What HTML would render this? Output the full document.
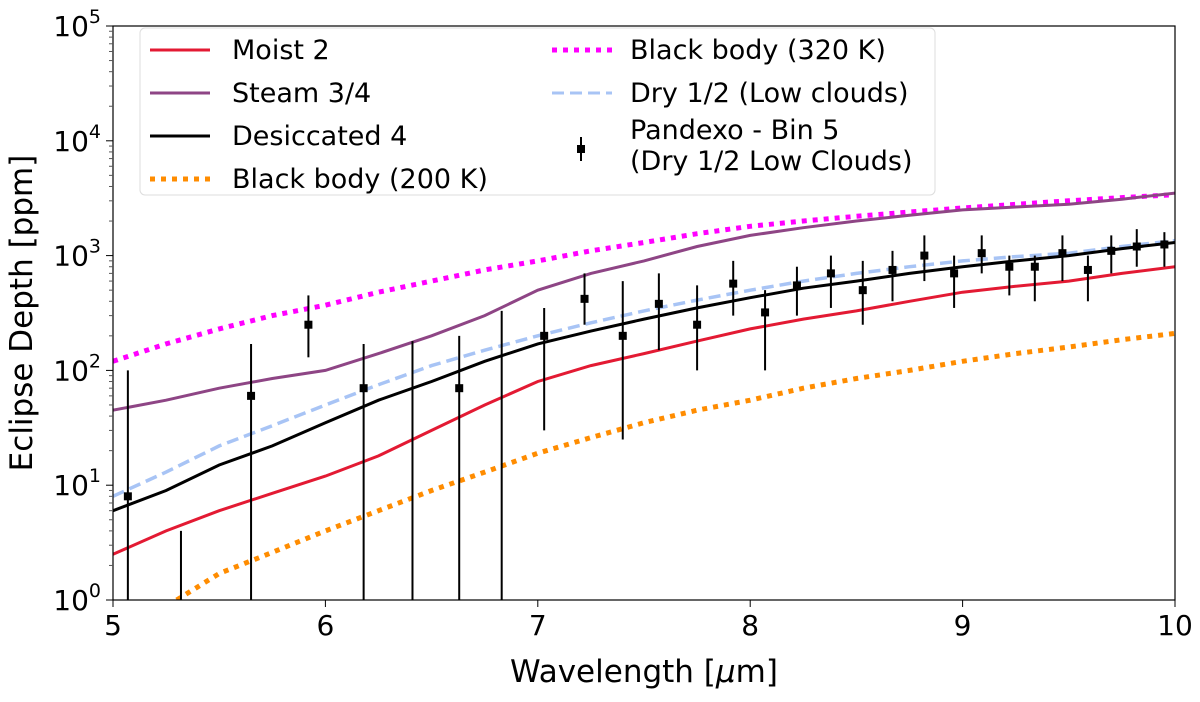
<!DOCTYPE html>
<html><head><meta charset="utf-8"><style>
body{margin:0;background:#fff;}
svg text{font-family:"DejaVu Sans","Liberation Sans",sans-serif;fill:#000;}
</style></head><body>
<svg id="chart" width="1200" height="697" xmlns="http://www.w3.org/2000/svg">
<g id="series"></g>
<g id="axes"></g>
<g id="legend">
<rect x="140" y="28" width="795" height="167" rx="5" fill="#fff" fill-opacity="0.85" stroke="#ddd"/>
<line x1="150" y1="50" x2="210" y2="50" stroke="#e31a33" stroke-width="3"/>
<text x="232" y="59" font-size="27">Moist 2</text>
<line x1="150" y1="93" x2="210" y2="93" stroke="#8e4585" stroke-width="3"/>
<text x="232" y="102" font-size="27">Steam 3/4</text>
<line x1="150" y1="136" x2="210" y2="136" stroke="#000" stroke-width="3"/>
<text x="232" y="145" font-size="27">Desiccated 4</text>
<line x1="150" y1="179" x2="210" y2="179" stroke="#ff8c00" stroke-width="5" stroke-dasharray="5,6"/>
<text x="232" y="188" font-size="27">Black body (200 K)</text>
<line x1="552" y1="50" x2="612" y2="50" stroke="#ff00ff" stroke-width="5" stroke-dasharray="5,6"/>
<text x="630" y="59" font-size="27">Black body (320 K)</text>
<line x1="552" y1="93" x2="612" y2="93" stroke="#a8c4f5" stroke-width="3" stroke-dasharray="12,6"/>
<text x="630" y="102" font-size="27">Dry 1/2 (Low clouds)</text>
<line x1="581" y1="137" x2="581" y2="161" stroke="#000" stroke-width="2"/>
<rect x="577" y="145" width="8" height="8" fill="#000"/>
<text x="630" y="139" font-size="27">Pandexo - Bin 5</text>
<text x="630" y="170" font-size="27">(Dry 1/2 Low Clouds)</text>
</g>
</svg>
<script>
const wl = [5,5.25,5.5,5.75,6,6.25,6.5,6.75,7,7.25,7.5,7.75,8,8.25,8.5,8.75,9,9.25,9.5,9.75,10];
const moist = [2.5,4,6,8.5,12,18,30,50,80,110,140,180,230,280,330,400,480,540,600,700,800];
const steam = [45,55,70,85,100,140,200,300,500,700,900,1200,1500,1750,2000,2250,2500,2650,2800,3100,3500];
const desic = [6,9,15,22,35,55,80,120,170,220,280,350,430,520,600,700,800,900,1000,1150,1300];
const dry = [8,13,22,33,50,75,110,150,200,260,330,410,500,600,700,800,900,980,1050,1200,1350];
const bb320 = [120,170,230,300,370,480,600,750,900,1100,1300,1550,1800,2000,2200,2400,2600,2800,3000,3200,3400];
const bb200wl = [5.3,5.5,5.75,6,6.25,6.5,6.75,7,7.25,7.5,7.75,8,8.25,8.5,8.75,9,9.25,9.5,9.75,10];
const bb200 = [1,1.7,2.6,4,6,9,13,19,26,35,45,55,70,85,100,120,140,160,185,210];
const pWl = [5.07,5.32,5.65,5.92,6.18,6.41,6.63,6.83,7.03,7.22,7.40,7.57,7.75,7.92,8.07,8.22,8.38,8.53,8.67,8.82,8.96,9.09,9.22,9.34,9.47,9.59,9.70,9.82,9.95];
const pVal = [8,0.5,60,250,70,0.5,70,0.5,200,420,200,380,250,570,320,550,700,500,750,1000,700,1050,800,800,1050,750,1100,1200,1250];
const pLo = [0.1,0.1,0.1,130,0.1,0.1,0.1,0.1,30,250,25,150,100,300,100,300,350,250,400,600,350,700,450,400,600,400,700,800,800];
const pHi = [100,4,170,450,170,180,200,330,350,700,600,700,550,900,500,800,1000,900,1100,1500,1000,1500,1000,1000,1500,1000,1500,1700,1600];
const xTicks = [5,6,7,8,9,10];
const yTicks = [0,1,2,3,4,5];

const L=113,R=1175,T=26,B=600;
const X=v=>L+(v-5)/5*(R-L);
const Y=v=>B-Math.log10(Math.max(v,0.5))/5*(B-T);
const ns="http://www.w3.org/2000/svg";
const S=document.getElementById('series'), A=document.getElementById('axes');
function mk(tag,at,par){const e=document.createElementNS(ns,tag);for(const k in at)e.setAttribute(k,at[k]);par.appendChild(e);return e;}
const clip=mk('clipPath',{id:'pc'},S);mk('rect',{x:L,y:T,width:R-L,height:B-T},clip);
function line(xs,ys,stroke,w,dash,name){
  const d=xs.map((x,i)=>(i?'L':'M')+X(x).toFixed(1)+','+Y(ys[i]).toFixed(1)).join('');
  const p=mk('path',{d:d,fill:'none',stroke:stroke,'stroke-width':w,'clip-path':'url(#pc)'},S);
  if(dash)p.setAttribute('stroke-dasharray',dash);
  
  
}
line(wl,bb320,'#ff00ff',5,'5,6','series-bb320');
line(wl,steam,'#8e4585',3,null,'series-steam');
line(wl,dry,'#a8c4f5',3.5,'12,6','series-dry');
line(wl,desic,'#000',3,null,'series-desiccated');
line(wl,moist,'#e31a33',3,null,'series-moist');
line(bb200wl,bb200,'#ff8c00',5,'5,6','series-bb200');
pWl.forEach((w,i)=>{
  const g=mk('g',{'clip-path':'url(#pc)'},S);
  
  
  mk('line',{x1:X(w),x2:X(w),y1:Y(pLo[i]),y2:Y(pHi[i]),stroke:'#000','stroke-width':2},g);
  mk('rect',{x:X(w)-4,y:Y(pVal[i])-4,width:8,height:8,fill:'#000'},g);
});
mk('rect',{x:L,y:T,width:R-L,height:B-T,fill:'none',stroke:'#000','stroke-width':1.2},A);
xTicks.forEach(v=>{
  mk('line',{x1:X(v),x2:X(v),y1:B,y2:B+7,stroke:'#000'},A);
  const t=mk('text',{x:X(v),y:B+35,'font-size':28,'text-anchor':'middle'},A);t.textContent=v;
  
  
});
yTicks.forEach(v=>{
  const y=B-v/5*(B-T);
  mk('line',{x1:L-7,x2:L,y1:y,y2:y,stroke:'#000'},A);
  if(v<5)for(let m=2;m<10;m++){const yy=y-Math.log10(m)/5*(B-T);mk('line',{x1:L-4,x2:L,y1:yy,y2:yy,stroke:'#555'},A);}
  const t=mk('text',{x:L-12,y:y+10,'font-size':28,'text-anchor':'end'},A);
  
  
  t.innerHTML='10<tspan dy="-13" font-size="19">'+v+'</tspan>';
});
const xt=mk('text',{x:(L+R)/2,y:682,'font-size':31,'text-anchor':'middle'},A);


xt.innerHTML='Wavelength [<tspan font-style="italic">μ</tspan>m]';
const yt=mk('text',{x:0,y:0,'font-size':31,'text-anchor':'middle',transform:'translate(32,313) rotate(-90)'},A);


yt.textContent='Eclipse Depth [ppm]';
</script>
</body></html>
